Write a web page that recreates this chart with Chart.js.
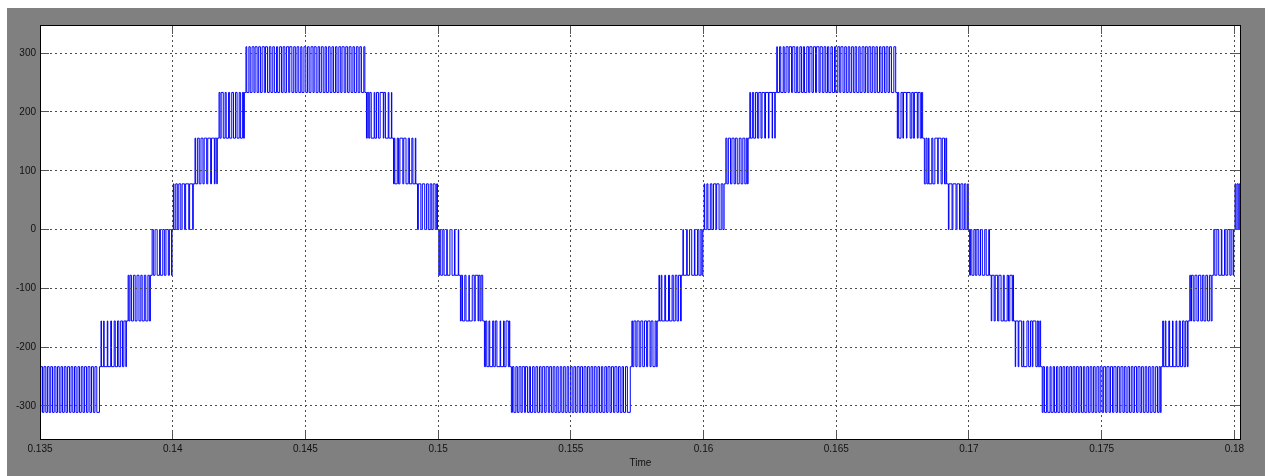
<!DOCTYPE html>
<html>
<head>
<meta charset="utf-8">
<title>Inverter output voltage</title>
<script src="https://cdn.jsdelivr.net/npm/chart.js@4/dist/chart.umd.min.js"></script>
<style>
  html, body { margin: 0; padding: 0; background: #ffffff; }
  #wrap { position: relative; width: 1265px; height: 476px; }
  canvas { display: block; }
</style>
</head>
<body>
<div id="wrap"><canvas id="scope" width="1265" height="476"></canvas></div>
<script>
// Axis ticks
const xTicks = [0.135, 0.14, 0.145, 0.15, 0.155, 0.16, 0.165, 0.17, 0.175, 0.18];
const xTickLabels = ['0.135', '0.14', '0.145', '0.15', '0.155', '0.16', '0.165', '0.17', '0.175', '0.18'];
const yTicks = [-300, -200, -100, 0, 100, 200, 300];
const xRange = [0.135, 0.18025];
const yRange = [-358, 348];

// Output voltage: initial sample, then one PWM band per entry.
// In each band the voltage switches between bandFrom and bandTo;
// bandEdges holds the switching instants in microseconds after bandStart.
const startTime = 0.135;
const startLevel = -311;

const bandStart = [
  0.135, 0.1373, 0.13832, 0.139225,
  0.140025, 0.14084, 0.141745, 0.14276, 0.1473, 0.14832, 0.149225,
  0.150025, 0.15084, 0.151745, 0.15276, 0.1573, 0.15832, 0.159225,
  0.160025, 0.16084, 0.161745, 0.16276, 0.1673, 0.16832, 0.169225,
  0.170025, 0.17084, 0.171745, 0.17276, 0.1773, 0.17832, 0.179225,
  0.180025
];
const bandFrom = [
  -311, -233.25, -155.5, -77.75,
  0, 77.75, 155.5, 233.25, 233.25, 155.5, 77.75,
  0, -77.75, -155.5, -233.25, -233.25, -155.5, -77.75,
  0, 77.75, 155.5, 233.25, 233.25, 155.5, 77.75,
  0, -77.75, -155.5, -233.25, -233.25, -155.5, -77.75,
  0
];
const bandTo = [
  -233.25, -155.5, -77.75, 0,
  77.75, 155.5, 233.25, 311, 155.5, 77.75, 0,
  -77.75, -155.5, -233.25, -311, -155.5, -77.75, 0,
  77.75, 155.5, 233.25, 311, 155.5, 77.75, 0,
  -77.75, -155.5, -233.25, -311, -155.5, -77.75, 0,
  77.75
];
const bandEdges = [
  [30, 95, 150, 220, 280, 345, 405, 470, 535, 600, 660, 725, 790, 850, 915, 980, 1040, 1110, 1170, 1235, 1300, 1360, 1430, 1490, 1555, 1620, 1680, 1750, 1810, 1880, 1940, 2010, 2070, 2140, 2240],
  [0, 15, 100, 115, 235, 255, 365, 395, 495, 535, 620, 670, 740, 810, 860, 935, 955],
  [0, 30, 70, 125, 200, 265, 335, 410, 480, 530, 610, 665, 745, 800, 840],
  [0, 45, 110, 190, 280, 310, 400, 460, 520, 610, 650, 732, 750],

  [0, 22, 90, 148, 205, 280, 330, 425, 462, 580, 612, 728, 750],
  [0, 25, 100, 160, 225, 300, 345, 440, 480, 590, 620, 730, 755, 820, 840],
  [0, 35, 80, 160, 230, 270, 360, 400, 480, 545, 620, 680, 760, 805, 880, 925, 955],
  [0, 30, 110, 160, 230, 300, 345, 420, 480, 545, 610, 690, 735, 810, 880, 940, 1010, 1070, 1150, 1195, 1270, 1340, 1400, 1465, 1530, 1610, 1650, 1730, 1800, 1860, 1925, 1990, 2065, 2110, 2185, 2255, 2320, 2380, 2450, 2525, 2570, 2645, 2715, 2775, 2840, 2910, 2980, 3030, 3105, 3170, 3240, 3300, 3375, 3430, 3500, 3570, 3620, 3700, 3760, 3830, 3890, 3960, 4030, 4085, 4160, 4225, 4290, 4350, 4440, 4480],
  [0, 30, 85, 125, 180, 290, 315, 380, 450, 515, 635, 655, 715, 820, 845, 940, 955],
  [0, 25, 50, 140, 190, 240, 350, 385, 470, 555, 600, 690, 730, 820, 840],
  [0, 30, 125, 180, 270, 340, 405, 475, 535, 590, 665, 720, 750],

  [0, 35, 75, 150, 200, 300, 320, 420, 500, 590, 610, 735, 750],
  [0, 30, 80, 165, 210, 320, 335, 445, 520, 560, 665, 690, 740, 780, 840],
  [0, 45, 90, 170, 200, 310, 350, 410, 470, 590, 610, 720, 745, 815, 900, 935, 955],
  [0, 40, 95, 170, 225, 290, 360, 410, 490, 530, 605, 675, 720, 800, 860, 925, 990, 1060, 1120, 1180, 1255, 1310, 1390, 1445, 1515, 1575, 1640, 1710, 1765, 1840, 1900, 1970, 2030, 2100, 2160, 2230, 2290, 2355, 2420, 2480, 2555, 2610, 2680, 2740, 2810, 2870, 2935, 3000, 3065, 3125, 3195, 3260, 3320, 3390, 3445, 3520, 3580, 3640, 3715, 3770, 3845, 3900, 3975, 4035, 4100, 4170, 4225, 4300, 4370, 4480],
  [0, 30, 75, 150, 195, 275, 335, 410, 475, 555, 595, 685, 725, 795, 875, 920, 955],
  [0, 20, 85, 110, 220, 250, 360, 400, 495, 540, 615, 680, 740, 815, 840],
  [0, 15, 140, 160, 250, 330, 430, 450, 550, 600, 675, 715, 750],

  [0, 18, 100, 140, 230, 290, 350, 440, 470, 560, 640, 705, 750],
  [0, 40, 95, 175, 230, 310, 360, 430, 505, 575, 640, 715, 770, 810, 840],
  [0, 20, 95, 145, 215, 285, 335, 420, 460, 560, 590, 700, 720, 840, 855, 940, 955],
  [0, 20, 105, 150, 240, 280, 350, 425, 470, 555, 600, 680, 750, 790, 870, 930, 1000, 1045, 1130, 1200, 1245, 1325, 1380, 1460, 1500, 1590, 1635, 1715, 1780, 1845, 1910, 1960, 2040, 2095, 2175, 2220, 2300, 2370, 2415, 2495, 2560, 2620, 2690, 2750, 2820, 2885, 2950, 3010, 3090, 3140, 3215, 3285, 3340, 3410, 3470, 3540, 3600, 3670, 3735, 3790, 3870, 3925, 3990, 4060, 4120, 4190, 4250, 4320, 4410, 4480],
  [0, 20, 55, 140, 210, 235, 345, 365, 485, 545, 605, 645, 755, 785, 865, 910, 955],
  [0, 60, 100, 150, 175, 280, 320, 395, 505, 520, 630, 675, 760, 810, 840],
  [0, 22, 138, 170, 288, 325, 420, 470, 545, 602, 660, 728, 750],

  [0, 30, 85, 160, 215, 275, 345, 410, 480, 570, 625, 720, 750],
  [0, 20, 110, 150, 240, 285, 370, 455, 490, 600, 650, 700, 790, 815, 840],
  [0, 15, 110, 135, 240, 300, 320, 440, 505, 575, 640, 665, 775, 830, 870, 925, 955],
  [0, 35, 85, 165, 210, 295, 335, 415, 465, 540, 590, 665, 725, 785, 850, 915, 975, 1040, 1105, 1165, 1230, 1290, 1360, 1420, 1480, 1550, 1605, 1680, 1740, 1805, 1870, 1935, 1995, 2060, 2130, 2185, 2260, 2315, 2390, 2440, 2520, 2575, 2650, 2700, 2780, 2835, 2905, 2965, 3040, 3095, 3160, 3230, 3290, 3355, 3420, 3480, 3555, 3610, 3685, 3745, 3810, 3880, 3940, 4010, 4070, 4140, 4205, 4275, 4345, 4405, 4450, 4480],
  [0, 25, 95, 120, 230, 260, 370, 390, 500, 530, 625, 665, 745, 805, 865, 930, 955],
  [0, 35, 65, 130, 195, 270, 330, 415, 475, 535, 605, 670, 740, 805, 840],
  [0, 40, 115, 185, 285, 305, 405, 455, 525, 605, 655, 728, 750],

  [0, 30, 75, 120, 160, 200, 240, 290, 330]
];

// Turn the switching record into step-plot samples
const samples = [{ x: startTime, y: startLevel }];
bandStart.forEach((t0, b) => {
  bandEdges[b].forEach((us, i) => {
    samples.push({ x: t0 + us / 1e6, y: i % 2 === 0 ? bandTo[b] : bandFrom[b] });
  });
});

Chart.defaults.font.family = '"Liberation Sans", Arial, Helvetica, sans-serif';
Chart.defaults.font.size = 10;
Chart.defaults.color = '#111111';

const GRID = '#4d4d4d';
const TICK_LEN = 9;

// Grey window, white axes box, black frame and inward tick marks
const scopeFrame = {
  id: 'scopeFrame',
  beforeDraw(chart) {
    const { ctx, chartArea: a, width, height } = chart;
    ctx.save();
    ctx.fillStyle = '#ffffff';
    ctx.fillRect(0, 0, width, height);
    ctx.fillStyle = '#808080';
    ctx.fillRect(7, 8, width - 7, height - 8);
    ctx.fillStyle = '#ffffff';
    ctx.fillRect(a.left, a.top, a.right - a.left, a.bottom - a.top);
    ctx.restore();
  },
  afterDraw(chart) {
    const { ctx, chartArea: a } = chart;
    const xs = chart.scales.x, ys = chart.scales.y;
    const al = p => Math.round(p - 0.5) + 0.5;
    ctx.save();
    ctx.lineWidth = 1;
    ctx.strokeStyle = '#555555';
    ctx.setLineDash([]);
    ctx.beginPath();
    xTicks.forEach(v => {
      const px = al(xs.getPixelForValue(v));
      ctx.moveTo(px, a.top); ctx.lineTo(px, a.top + TICK_LEN);
      ctx.moveTo(px, a.bottom); ctx.lineTo(px, a.bottom - TICK_LEN);
    });
    yTicks.forEach(v => {
      const py = al(ys.getPixelForValue(v));
      ctx.moveTo(a.left, py); ctx.lineTo(a.left + TICK_LEN, py);
      ctx.moveTo(a.right, py); ctx.lineTo(a.right - TICK_LEN, py);
    });
    ctx.stroke();
    ctx.strokeStyle = '#000000';
    ctx.strokeRect(a.left + 0.5, a.top + 0.5, a.right - a.left - 1, a.bottom - a.top - 1);
    ctx.restore();
  }
};

new Chart(document.getElementById('scope'), {
  type: 'line',
  data: {
    datasets: [{
      data: samples,
      stepped: true,
      borderColor: '#0000ff',
      borderWidth: 1,
      pointRadius: 0,
      fill: false,
      tension: 0
    }]
  },
  options: {
    responsive: false,
    animation: false,
    parsing: false,
    normalized: true,
    layout: { padding: { top: 25, right: 24, left: 0, bottom: 0 } },
    plugins: { legend: { display: false }, tooltip: { enabled: false } },
    scales: {
      x: {
        type: 'linear',
        min: xRange[0],
        max: xRange[1],
        afterBuildTicks: s => { s.ticks = xTicks.map(v => ({ value: v })); },
        afterFit: s => { s.height = 36; },
        ticks: {
          autoSkip: false,
          maxRotation: 0,
          padding: 3,
          color: '#111111',
          callback: (v, i) => xTickLabels[i]
        },
        grid: { color: GRID, lineWidth: 1, drawTicks: false, z: 1 },
        border: { display: false, dash: [2, 3] },
        title: {
          display: true,
          text: 'Time',
          color: '#111111',
          font: { size: 10 },
          padding: { top: 0, bottom: 7 }
        }
      },
      y: {
        type: 'linear',
        min: yRange[0],
        max: yRange[1],
        afterBuildTicks: s => { s.ticks = yTicks.map(v => ({ value: v })); },
        afterFit: s => { s.width = 40; },
        ticks: {
          autoSkip: false,
          padding: 4,
          color: '#111111',
          callback: v => String(v)
        },
        grid: { color: GRID, lineWidth: 1, drawTicks: false, z: 1 },
        border: { display: false, dash: [2, 3] }
      }
    }
  },
  plugins: [scopeFrame]
});
</script>
</body>
</html>
